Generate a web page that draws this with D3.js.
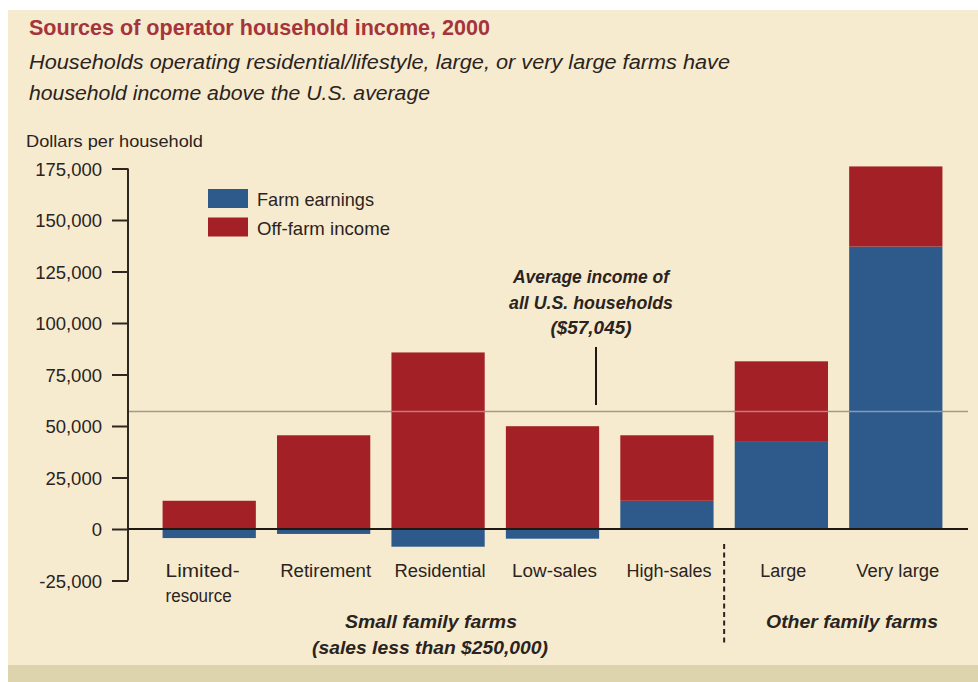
<!DOCTYPE html>
<html>
<head>
<meta charset="utf-8">
<script src="https://cdn.jsdelivr.net/npm/d3@7"></script>
<style>
  body { margin: 0; background: #ffffff; }
  svg { display: block; }
  text { font-family: "Liberation Sans", Arial, "DejaVu Sans", sans-serif; fill: #2a231e; }
</style>
</head>
<body>
<svg id="chart" width="978" height="682"></svg>
<script>
// Household income by farm type, 2000 (dollars per household)
const categories = ["Limited-resource", "Retirement", "Residential", "Low-sales", "High-sales", "Large", "Very large"];
const categoryLines = [["Limited-", "resource"], ["Retirement"], ["Residential"], ["Low-sales"], ["High-sales"], ["Large"], ["Very large"]];
const farmEarnings  = [-4400, -2400, -8600, -4700, 13700, 42300, 137100];
const offFarmIncome = [13700, 45500, 85700, 49900, 31800, 39100, 38900];
const seriesNames = ["Farm earnings", "Off-farm income"];
const yTicks = [-25000, 0, 25000, 50000, 75000, 100000, 125000, 150000, 175000];
const usAverage = 57045;
const averageLabel = ["Average income of", "all U.S. households", "($57,045)"];
const smallFarmsLabel = ["Small family farms", "(sales less than $250,000)"];
const otherFarmsLabel = ["Other family farms"];

const colors = { farm: "#2e5a8b", off: "#a32026", axis: "#2f2620", avg: "#a39b86" };

const svg = d3.select("#chart");
const W = 978, H = 682;

// Squeeze a text run to a given width, mimicking the condensed face
function fit(sel, w) {
  return sel.attr("textLength", w).attr("lengthAdjust", "spacingAndGlyphs");
}

// Page background: white margin, beige panel, darker footer strip
svg.append("rect").attr("width", W).attr("height", H).attr("fill", "#ffffff");
svg.append("rect").attr("x", 8).attr("y", 10).attr("width", W - 8).attr("height", 655).attr("fill", "#f6ebcf");
svg.append("rect").attr("x", 8).attr("y", 665).attr("width", W - 8).attr("height", H - 665).attr("fill", "#ddd3ad");

// Titles
fit(svg.append("text").attr("x", 29).attr("y", 35)
  .style("font-size", "22px").style("font-weight", "bold").style("fill", "#a6343b")
  .text("Sources of operator household income, 2000"), 461);
fit(svg.append("text").attr("x", 29).attr("y", 69)
  .style("font-size", "20px").style("font-style", "italic")
  .text("Households operating residential/lifestyle, large, or very large farms have"), 701);
fit(svg.append("text").attr("x", 29).attr("y", 100)
  .style("font-size", "20px").style("font-style", "italic")
  .text("household income above the U.S. average"), 401);
fit(svg.append("text").attr("x", 26).attr("y", 147)
  .style("font-size", "17px")
  .text("Dollars per household"), 177);

// Scales
const x = d3.scaleBand().domain(categories).range([152, 953]).paddingInner(0.185).paddingOuter(0.0925);
const y = d3.scaleLinear().domain([-25000, 175000]).range([580.5, 168.5]);
const axisX = 128, tickLen = 16, lineEnd = 968;

// Segments for each bar: farm earnings and off-farm income stacked from zero
const rows = categories.map((c, i) => {
  const f = farmEarnings[i], o = offFarmIncome[i];
  const farm = f >= 0 ? [0, f] : [f, 0];
  const off = f >= 0 ? [f, f + o] : [0, o];
  return { cat: c, farm, off, total: f + o };
});

// Average household income reference line (behind the bars)
svg.append("line")
  .attr("x1", axisX).attr("x2", lineEnd)
  .attr("y1", y(usAverage)).attr("y2", y(usAverage))
  .attr("stroke", colors.avg).attr("stroke-width", 1.6);

const bars = svg.append("g");
bars.selectAll("rect.farm").data(rows).join("rect").attr("class", "farm")
  .attr("x", d => x(d.cat)).attr("width", x.bandwidth())
  .attr("y", d => y(d.farm[1])).attr("height", d => y(d.farm[0]) - y(d.farm[1]))
  .attr("fill", colors.farm);
bars.selectAll("rect.off").data(rows).join("rect").attr("class", "off")
  .attr("x", d => x(d.cat)).attr("width", x.bandwidth())
  .attr("y", d => y(d.off[1])).attr("height", d => y(d.off[0]) - y(d.off[1]))
  .attr("fill", colors.off);

// Where the average line crosses a bar it shows as a pale stripe
bars.selectAll("line.avg").data(rows.filter(d => Math.max(d.farm[1], d.off[1]) > usAverage))
  .join("line").attr("class", "avg")
  .attr("x1", d => x(d.cat)).attr("x2", d => x(d.cat) + x.bandwidth())
  .attr("y1", y(usAverage)).attr("y2", y(usAverage))
  .attr("stroke", "#ffffff").attr("stroke-opacity", 0.4).attr("stroke-width", 1.6);

// Y axis with leftward ticks
const yAxis = d3.axisLeft(y).tickValues(yTicks).tickSize(tickLen).tickPadding(10)
  .tickFormat(d => d3.format(",")(d).replace("\u2212", "-"));
const gy = svg.append("g").attr("transform", `translate(${axisX},0)`).call(yAxis);
gy.select(".domain").remove();
gy.append("line").attr("x1", 0).attr("x2", 0).attr("y1", y(175000)).attr("y2", y(-25000))
  .attr("stroke", colors.axis).attr("stroke-width", 2);
gy.selectAll(".tick line").attr("stroke", colors.axis).attr("stroke-width", 2);
gy.selectAll(".tick text").style("font-size", "18.5px")
  .style("font-family", "\"Liberation Sans\", Arial, sans-serif").attr("fill", "#2a231e").attr("dy", "0.36em");

// Zero baseline drawn over the bars
svg.append("line").attr("x1", axisX).attr("x2", lineEnd).attr("y1", y(0)).attr("y2", y(0))
  .attr("stroke", "#1f1813").attr("stroke-width", 2);

// Legend
const legend = svg.append("g");
const legendColors = [colors.farm, colors.off];
const legendWidths = [117, 133];
seriesNames.forEach((name, i) => {
  const top = 189 + i * 28.5;
  legend.append("rect").attr("x", 208).attr("y", top).attr("width", 40).attr("height", 19).attr("fill", legendColors[i]);
  fit(legend.append("text").attr("x", 257).attr("y", top + 17).style("font-size", "19px").text(name), legendWidths[i]);
});

// Average income annotation with pointer
const ann = svg.append("g");
const annX = 591;
const annWidths = [156, 164, 81];
averageLabel.forEach((t, i) => {
  fit(ann.append("text").attr("x", annX).attr("y", 283 + i * 25.5).attr("text-anchor", "middle")
    .style("font-size", "19px").style("font-weight", "bold").style("font-style", "italic").text(t), annWidths[i]);
});
ann.append("line").attr("x1", 596).attr("x2", 596).attr("y1", 347).attr("y2", 405)
  .attr("stroke", "#1f1813").attr("stroke-width", 2);

// Category labels
const labelWidths = [[74, 66], [91], [91], [85], [85], [46], [83]];
const cats = svg.append("g");
categories.forEach((c, i) => {
  const lines = categoryLines[i];
  const multi = lines.length > 1;
  lines.forEach((t, j) => {
    const el = cats.append("text")
      .attr("x", multi ? x(c) + 3 : x(c) + x.bandwidth() / 2 + 2)
      .attr("y", 577 + j * 25)
      .attr("text-anchor", multi ? "start" : "middle")
      .style("font-size", "18px").text(t);
    fit(el, labelWidths[i][j]);
  });
});

// Group divider and group labels
const divX = (x("High-sales") + x.bandwidth() + x("Large")) / 2;
svg.append("line").attr("x1", divX).attr("x2", divX).attr("y1", 544).attr("y2", 646)
  .attr("stroke", "#2a231e").attr("stroke-width", 2).attr("stroke-dasharray", "5,3.5");

const groupText = (t, cx, yy, w) => fit(svg.append("text").attr("x", cx).attr("y", yy).attr("text-anchor", "middle")
  .style("font-size", "19px").style("font-weight", "bold").style("font-style", "italic").text(t), w);
groupText(smallFarmsLabel[0], 431, 628, 172);
groupText(smallFarmsLabel[1], 430, 654, 236);
groupText(otherFarmsLabel[0], 852, 628, 172);
</script>
</body>
</html>
